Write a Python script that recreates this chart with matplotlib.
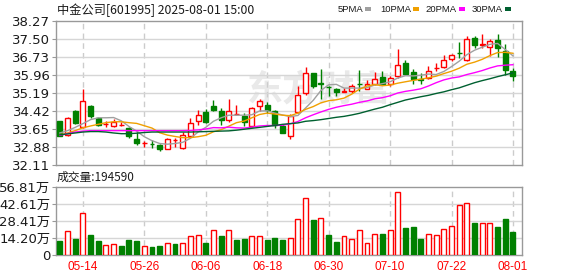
import matplotlib
matplotlib.use('Agg')
import matplotlib.pyplot as plt
from matplotlib.patches import Rectangle
import numpy as np

# ---------------- data ----------------
dates = ['05-09','05-12','05-13','05-14','05-15','05-16','05-19','05-20','05-21','05-22',
         '05-23','05-26','05-27','05-28','05-29','05-30','06-03','06-04','06-05','06-06',
         '06-09','06-10','06-11','06-12','06-13','06-16','06-17','06-18','06-19','06-20',
         '06-23','06-24','06-25','06-26','06-27','06-30','07-01','07-02','07-03','07-04',
         '07-07','07-08','07-09','07-10','07-11','07-14','07-15','07-16','07-17','07-18',
         '07-21','07-22','07-23','07-24','07-25','07-28','07-29','07-30','07-31','08-01']

opens = [33.99,33.40,34.41,33.72,34.62,34.13,33.85,33.79,33.82,33.69,
         33.23,33.05,33.01,32.96,32.80,33.16,32.84,33.37,34.00,34.36,
         34.63,34.43,34.02,34.29,34.19,33.76,34.62,34.68,34.41,33.79,
         33.33,34.36,35.20,36.03,35.61,35.46,35.38,35.25,35.27,35.58,
         35.38,35.56,35.88,35.59,35.93,36.49,36.09,35.78,35.85,36.26,
         36.30,36.66,36.92,36.62,37.55,37.25,37.15,37.44,36.98,36.12]
highs = [34.01,34.18,34.45,35.37,34.66,34.15,33.99,34.07,33.96,33.72,
         33.58,33.13,33.16,32.99,33.26,33.27,33.51,34.13,34.45,34.49,
         34.88,34.53,34.95,34.69,34.33,34.59,34.94,34.79,34.48,33.87,
         34.31,35.51,36.30,36.06,36.23,35.50,35.41,35.41,35.56,36.16,
         35.73,36.08,36.13,35.92,37.09,36.60,36.23,36.06,36.34,36.49,
         36.83,36.86,37.38,37.62,37.62,37.70,37.48,37.70,37.27,36.26]
lows = [33.34,33.34,33.86,33.68,34.13,33.78,33.72,33.75,33.78,33.27,
        32.95,32.88,32.84,32.70,32.78,32.88,32.81,33.34,33.82,33.90,
        34.41,33.83,33.93,34.25,33.76,33.74,34.44,34.33,33.69,33.47,
        33.21,34.34,35.11,35.41,34.95,35.08,35.05,35.22,35.20,35.27,
        35.34,35.53,35.53,35.51,35.85,35.95,35.56,35.56,35.80,36.13,
        36.26,36.55,36.69,36.58,37.12,37.12,36.79,36.73,35.97,35.69]
closes = [33.37,34.10,33.90,34.85,34.21,33.82,33.87,33.93,33.84,33.33,
          33.03,33.07,32.99,32.81,33.23,33.18,33.40,33.89,34.27,33.96,
          34.46,34.05,34.44,34.31,33.93,34.56,34.86,34.48,33.83,33.50,
          34.22,35.12,36.06,35.51,35.57,35.44,35.22,35.27,35.49,35.56,
          35.58,35.80,35.59,35.85,36.39,36.00,35.77,35.74,36.13,36.28,
          36.62,36.83,36.90,37.52,37.24,37.27,37.41,37.12,36.19,35.90]

ma5 = [33.48,33.58,33.72,33.88,34.05,34.13,34.13,34.14,34.00,33.76,
       33.56,33.32,33.15,33.03,33.00,33.03,33.08,33.25,33.52,33.72,
       33.98,34.13,34.24,34.24,34.24,34.26,34.42,34.43,34.33,34.25,
       34.18,34.23,34.55,34.88,35.30,35.54,35.56,35.40,35.40,35.40,
       35.42,35.53,35.59,35.67,35.83,35.93,35.92,35.95,36.00,35.98,
       36.11,36.32,36.55,36.83,37.02,37.15,37.27,37.31,37.05,36.78]
ma10 = [33.40,33.48,33.58,33.70,33.78,33.85,33.92,33.96,33.96,33.92,
        33.89,33.79,33.69,33.49,33.39,33.33,33.28,33.28,33.32,33.38,
        33.53,33.62,33.77,33.92,33.99,34.13,34.27,34.33,34.29,34.24,
        34.22,34.33,34.49,34.61,34.77,34.86,34.90,34.97,35.14,35.35,
        35.49,35.55,35.50,35.53,35.61,35.67,35.73,35.78,35.84,35.91,
        36.02,36.12,36.25,36.42,36.51,36.63,36.79,36.92,36.93,36.89]
ma20 = [33.38,33.45,33.52,33.56,33.58,33.58,33.58,33.58,33.58,33.58,
        33.58,33.58,33.58,33.58,33.58,33.58,33.58,33.59,33.61,33.65,
        33.71,33.70,33.73,33.70,33.69,33.73,33.78,33.80,33.80,33.81,
        33.87,33.97,34.13,34.26,34.38,34.49,34.58,34.65,34.71,34.79,
        34.85,34.94,34.99,35.07,35.19,35.26,35.31,35.37,35.49,35.63,
        35.75,35.83,35.88,35.98,36.06,36.15,36.26,36.35,36.38,36.40]
ma30 = [33.40,33.44,33.48,33.52,33.54,33.54,33.52,33.48,33.45,33.45,
        33.47,33.50,33.52,33.52,33.52,33.52,33.52,33.52,33.53,33.54,
        33.55,33.56,33.57,33.60,33.64,33.68,33.72,33.76,33.80,33.85,
        33.88,33.91,33.98,34.01,34.05,34.10,34.15,34.19,34.25,34.32,
        34.41,34.50,34.58,34.69,34.79,34.89,34.96,35.03,35.09,35.17,
        35.24,35.33,35.41,35.52,35.63,35.72,35.80,35.89,35.97,36.05]

volumes = [11.6,19.9,13.3,35.4,16.6,11.6,8.3,8.9,7.5,12.5,
           11.6,7.2,6.6,7.5,9.7,9.1,10.0,15.5,16.6,10.0,
           20.5,15.8,21.3,12.5,13.3,15.5,15.5,12.5,14.1,12.5,
           13.8,30.4,47.9,29.1,31.3,16.6,10.8,15.5,13.0,21.3,
           9.7,17.2,17.4,20.5,52.9,22.4,23.3,13.3,17.2,16.3,
           22.1,24.6,42.1,43.7,26.6,26.6,26.6,23.3,29.9,19.459]

price_ticks = [32.11, 32.88, 33.65, 34.42, 35.19, 35.96, 36.73, 37.50, 38.27]
vol_ticks = [0, 14.20, 28.41, 42.61, 56.81]
vol_tick_labels = ['0', '14.20万', '28.41万', '42.61万', '56.81万']
date_ticks = ['05-14','05-26','06-06','06-18','06-30','07-10','07-22','08-01']
ma_names = ['5PMA', '10PMA', '20PMA', '30PMA']
title = '中金公司[601995] 2025-08-01 15:00'
vol_title = '成交量:194590'

# ---------------- style ----------------
RED = '#ff0000'
GREEN = '#008000'
MA_COLORS = ['#a0a0a0', '#f0a000', '#ff00ff', '#006030']
GRID = '#d6d6d6'
VGRID = '#cccccc'
SPINE = '#999999'
TXT = '#1a1a1a'

W, H = 578, 276
fig = plt.figure(figsize=(W / 100, H / 100), dpi=100)

def rect(l, t, r, b):
    return [l / W, 1 - b / H, (r - l) / W, (b - t) / H]

axp = fig.add_axes(rect(56, 21, 522, 165))
axv = fig.add_axes(rect(56, 187, 522, 255))

n = len(dates)
x = np.arange(n)
O = np.array(opens); Hh = np.array(highs); L = np.array(lows); C = np.array(closes)
up = C >= O
tick_idx = [dates.index(d) for d in date_ticks]

for ax in (axp, axv):
    ax.set_xlim(-0.5, n + 0.18)
    for s in ax.spines.values():
        s.set_color(SPINE)
        s.set_linewidth(1)
    for ti in tick_idx:
        ax.axvline(ti, color=VGRID, lw=1, ls=(0, (4, 3)), zorder=0.5)
    ax.tick_params(axis='y', direction='out', length=3, color=SPINE, labelsize=9.5,
                   labelcolor=TXT, pad=1)

# watermark
axp.text(0.565, 0.52, '东方财富', transform=axp.transAxes, fontsize=26,
         family=['Noto Sans CJK SC'], fontweight='bold', color='#e9e9e9',
         ha='center', va='center', zorder=0.2)

# price panel
axp.set_ylim(price_ticks[0], price_ticks[-1])
axp.set_yticks(price_ticks)
axp.set_yticklabels([f'{v:.2f}' for v in price_ticks], family='DejaVu Sans')
for v in price_ticks[1:-1]:
    axp.axhline(v, color=GRID, lw=1, zorder=0.5)
axp.set_xticks([])

bw = 0.64
body_lo = np.minimum(O, C)
body_hi = np.maximum(O, C)
body_h = np.maximum(body_hi - body_lo, 0.004)
axp.vlines(x, L, body_lo, colors=np.where(up, RED, GREEN), lw=1, zorder=3)
axp.vlines(x, body_hi, Hh, colors=np.where(up, RED, GREEN), lw=1, zorder=3)
axp.bar(x[up], body_h[up], bottom=body_lo[up], width=bw, facecolor='white',
        edgecolor=RED, lw=1, zorder=4)
axp.bar(x[~up], body_h[~up], bottom=body_lo[~up], width=bw, facecolor=GREEN,
        edgecolor=GREEN, lw=1, zorder=4)

for ma, col in zip([ma5, ma10, ma20, ma30], MA_COLORS):
    axp.plot(x, ma, color=col, lw=1, zorder=5)

# volume panel
V = np.array(volumes)
prevC = np.concatenate([[O[0]], C[:-1]])
vup = C >= prevC
axv.set_ylim(0, vol_ticks[-1])
axv.set_yticks(vol_ticks)
axv.set_yticklabels(vol_tick_labels, family=['DejaVu Sans', 'Noto Sans CJK SC'])
for v in vol_ticks[1:-1]:
    axv.axhline(v, color=GRID, lw=1, zorder=0.5)
axv.bar(x[vup], V[vup], width=bw, facecolor='white', edgecolor=RED, lw=1, zorder=3)
axv.bar(x[~vup], V[~vup], width=bw, facecolor=GREEN, edgecolor=GREEN, lw=1, zorder=3)
axv.set_xticks(tick_idx)
axv.set_xticklabels(date_ticks, family='Liberation Sans')
axv.tick_params(axis='x', length=0, labelsize=8.5, labelcolor=RED, pad=4)

# titles
fig.text(57 / W, 1 - 10 / H, title, fontsize=8.8, family=['Noto Sans CJK SC'],
         color=TXT, va='center', ha='left')
fig.text(57 / W, 1 - 177 / H, vol_title, fontsize=8.5, family=['Noto Sans CJK SC'],
         color=TXT, va='center', ha='left')

# legend
leg_text_x = [338, 380, 425, 472]
leg_box_x = [365, 413, 459, 505]
for name, col, tx, bx in zip(ma_names, MA_COLORS, leg_text_x, leg_box_x):
    fig.text(tx / W, 1 - 9 / H, name, fontsize=6.8, family='Liberation Sans',
             color=TXT, va='center', ha='left')
    fig.add_artist(Rectangle((bx / W, 1 - 10.5 / H), 6 / W, 3 / H,
                             transform=fig.transFigure, facecolor=col,
                             edgecolor='none'))

fig.savefig('out.png', dpi=100)
